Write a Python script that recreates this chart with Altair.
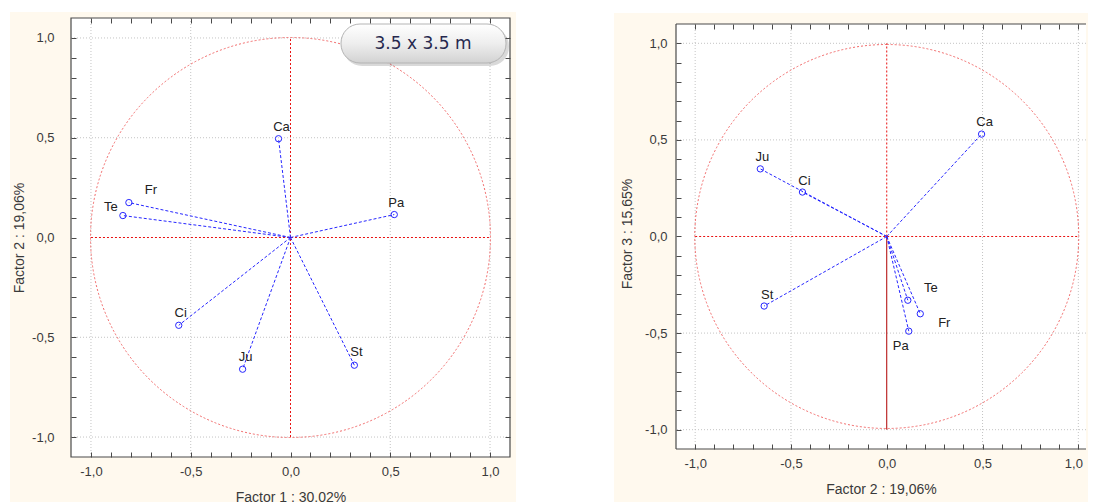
import altair as alt
import pandas as pd

# ---------------- data ----------------
variables = ["Ca", "Fr", "Te", "Pa", "Ci", "Ju", "St"]
factor1 = [-0.06, -0.81, -0.84, 0.52, -0.56, -0.24, 0.32]
factor2 = [0.495, 0.175, 0.11, 0.115, -0.44, -0.66, -0.64]
factor3 = [0.53, -0.40, -0.33, -0.49, 0.23, 0.35, -0.36]

tick_values = [-1.0, -0.9, -0.8, -0.7, -0.6, -0.5, -0.4, -0.3, -0.2, -0.1, 0.0,
               0.1, 0.2, 0.3, 0.4, 0.5, 0.6, 0.7, 0.8, 0.9, 1.0]
grid_values = [-1.0, -0.5, 0.0, 0.5, 1.0]
badge_text = "3.5 x 3.5 m"
title_f1 = "Factor 1 : 30,02%"
title_f2 = "Factor 2 : 19,06%"
title_f3 = "Factor 3 : 15,65%"

df = pd.DataFrame({"name": variables, "f1": factor1, "f2": factor2, "f3": factor3})
grid_df = pd.DataFrame({"g": grid_values})
ref_df = pd.DataFrame({"lo": [grid_values[0]], "hi": [grid_values[-1]], "mid": [grid_values[2]]})
one = pd.DataFrame({"k": [0]})

# ---------------- styles ----------------
FONT = "Liberation Sans"
CREAM = "#fff9ee"
GRID = "#c4c4c4"
RED = "#e81010"
CIRCLE = "#f26a6a"
BLUE = "#2626ff"
FRAME = "#4a4a4a"
TXT = "#3a3a3a"
HIDE_EXPR = "abs(datum.value * 2 - round(datum.value * 2)) < 0.001 ? datum.label : ''"

left_offsets = {"Ca": (3, -12), "Fr": (22, -13), "Te": (-12, -9), "Pa": (2, -12),
                "Ci": (2, -12), "Ju": (3, -12), "St": (2, -13)}
right_offsets = {"Ca": (3, -12), "Fr": (24, 9), "Te": (23, -12), "Pa": (-8, 15),
                 "Ci": (2, -11), "Ju": (2, -12), "St": (3, -11)}


def axis(orient, title=None, labels=True, label_pad=8, title_pad=8, offset=-5, last_shift=0):
    kw = dict(orient=orient, values=tick_values, format=".1f", labelExpr=HIDE_EXPR,
              offset=offset, domain=False, ticks=True, tickSize=5, tickColor=FRAME,
              tickWidth=1, grid=False, labels=labels, labelFont=FONT, labelFontSize=13,
              labelColor=TXT, labelPadding=label_pad, labelFlush=False,
              labelOverlap=False, zindex=1, title=title)
    if last_shift:
        kw.update(labelOffset={"condition": {"test": "datum.value >= 1", "value": last_shift},
                               "value": 0})
    if title is not None:
        kw.update(titleFont=FONT, titleFontSize=14, titleFontWeight="normal",
                  titleColor=TXT, titlePadding=title_pad)
    return alt.Axis(**kw)


def panel(xf, yf, xtitle, ytitle, W, H, top, xdom, ydom, radius, offsets, cream,
          ylab_pad, ytitle_pad, right_frame, badge, split_vertical, last_shift=0):
    # `top` = empty pixels above the frame inside the view
    xs = alt.Scale(domain=xdom, nice=False, zero=False)
    ys = alt.Scale(domain=ydom, nice=False, zero=False)

    def X(f):
        return alt.X(f"{f}:Q", scale=xs, axis=None)

    def Y(f):
        return alt.Y(f"{f}:Q", scale=ys, axis=None)

    L = []
    cx1, cx2, cy1, cy2 = cream
    L.append(alt.Chart(one).mark_rect(color=CREAM).encode(
        x=alt.value(cx1), x2=alt.value(cx2), y=alt.value(cy1), y2=alt.value(cy2)))
    L.append(alt.Chart(one).mark_rect(color="white").encode(
        x=alt.value(0), x2=alt.value(W), y=alt.value(top), y2=alt.value(H)))
    # grid (the 0 lines are drawn in red below)
    L.append(alt.Chart(grid_df).transform_filter("datum.g != 0").mark_rule(
        color=GRID, strokeDash=[1, 2], strokeWidth=1).encode(
        x=X("g"), y=alt.value(top), y2=alt.value(H)))
    L.append(alt.Chart(grid_df).transform_filter("datum.g != 0").mark_rule(
        color=GRID, strokeDash=[1, 2], strokeWidth=1).encode(y=Y("g")))
    # unit circle
    L.append(alt.Chart(ref_df).mark_arc(radius=radius, theta=0, theta2=6.2832, filled=False,
                                        stroke=CIRCLE, strokeDash=[2, 2], strokeWidth=1).encode(
        x=X("mid"), y=Y("mid")))
    # red axes through the origin
    L.append(alt.Chart(ref_df).mark_rule(color=RED, strokeDash=[2, 2], strokeWidth=1).encode(
        x=X("lo"), x2="hi:Q", y=Y("mid")))
    if split_vertical:
        L.append(alt.Chart(ref_df).mark_rule(color=RED, strokeDash=[2, 2], strokeWidth=1).encode(
            x=X("mid"), y=Y("mid"), y2="hi:Q"))
        L.append(alt.Chart(ref_df).mark_rule(color="#b00000", strokeWidth=1).encode(
            x=X("mid"), y=Y("lo"), y2="mid:Q"))
    else:
        L.append(alt.Chart(ref_df).mark_rule(color=RED, strokeDash=[2, 2], strokeWidth=1).encode(
            x=X("mid"), y=Y("lo"), y2="hi:Q"))
    # vectors from the origin
    L.append(alt.Chart(df).transform_calculate(origin="0").mark_rule(
        color=BLUE, strokeDash=[3, 2], strokeWidth=1).encode(
        x=X("origin"), y=Y("origin"), x2=f"{xf}:Q", y2=f"{yf}:Q"))
    L.append(alt.Chart(df).mark_point(shape="circle", filled=False, size=40, color=BLUE,
                                      strokeWidth=1, opacity=1).encode(
        x=X(xf), y=Y(yf)))
    for name, (dx, dy) in offsets.items():
        L.append(alt.Chart(df).transform_filter(alt.datum.name == name).mark_text(
            dx=dx, dy=dy, font=FONT, fontSize=13, color="#222222", baseline="middle",
            align="center").encode(x=X(xf), y=Y(yf), text="name:N"))
    # frame
    if right_frame:
        L.append(alt.Chart(one).mark_rect(fillOpacity=0, stroke=FRAME, strokeWidth=1.2).encode(
            x=alt.value(0), x2=alt.value(W), y=alt.value(top), y2=alt.value(H)))
    else:
        L.append(alt.Chart(one).mark_rule(color=FRAME, strokeWidth=1.2).encode(
            x=alt.value(0), x2=alt.value(W), y=alt.value(top)))
        L.append(alt.Chart(one).mark_rule(color=FRAME, strokeWidth=1.2).encode(
            x=alt.value(0), x2=alt.value(W), y=alt.value(H)))
        L.append(alt.Chart(one).mark_rule(color=FRAME, strokeWidth=1.2).encode(
            x=alt.value(0), y=alt.value(top), y2=alt.value(H)))
    # axes (bottom/left with labels, top/right ticks only)
    L.append(alt.Chart(df).mark_point(opacity=0).encode(
        x=alt.X(f"{xf}:Q", scale=xs, axis=axis("bottom", xtitle, label_pad=8, title_pad=12,
                                                 last_shift=last_shift)),
        y=alt.Y(f"{yf}:Q", scale=ys, axis=axis("left", ytitle, label_pad=ylab_pad, title_pad=ytitle_pad))))
    if right_frame:
        L.append(alt.Chart(df).mark_point(opacity=0).encode(
            x=alt.X(f"{xf}:Q", scale=xs, axis=axis("top", None, labels=False, offset=-5 - top)),
            y=alt.Y(f"{yf}:Q", scale=ys, axis=axis("right", None, labels=False))))
    else:
        L.append(alt.Chart(df).mark_point(opacity=0).encode(
            x=alt.X(f"{xf}:Q", scale=xs, axis=axis("top", None, labels=False, offset=-5 - top)),
            y=Y(yf)))
    if badge:
        L.append(alt.Chart(one).mark_rect(cornerRadius=19, color="#000000", opacity=0.15).encode(
            x=alt.value(272), x2=alt.value(438), y=alt.value(9), y2=alt.value(48)))
        grad = alt.LinearGradient(
            gradient="linear", x1=0, x2=0, y1=0, y2=1,
            stops=[alt.GradientStop(color="#ffffff", offset=0),
                   alt.GradientStop(color="#eeeeee", offset=0.5),
                   alt.GradientStop(color="#d2d2d2", offset=1)])
        L.append(alt.Chart(one).mark_rect(cornerRadius=19, fill=grad, stroke="#b4b4b4",
                                          strokeWidth=1).encode(
            x=alt.value(270), x2=alt.value(435), y=alt.value(6), y2=alt.value(45)))
        L.append(alt.Chart(one).mark_text(font="DejaVu Sans", fontSize=17, color="#26284e",
                                          baseline="middle", align="center").encode(
            x=alt.value(352), y=alt.value(26), text=alt.value(badge_text)))
    return alt.layer(*L).resolve_axis(x="independent", y="independent").properties(
        width=W, height=H)


left = panel("f1", "f2", title_f1, title_f2, 439, 439, 0, [-1.1, 1.1], [-1.1, 1.1], 200,
             left_offsets, (-61, 445, -6, 486), 17, 5, True, True, False)
# right panel: 6 px of empty view on top so its frame sits lower than the left one
right = panel("f2", "f3", title_f2, title_f3, 410, 431, 6, [-1.1, 1.04], [-1.1, 1.131], 192,
              right_offsets, (-62, 412, -5, 486), 9, 10, False, False, True, last_shift=-5)

chart = alt.hconcat(left, right, spacing=96, padding={"left": 1, "top": 3, "right": 0, "bottom": 0},
                    background="white").configure_view(strokeWidth=0).configure(
    locale={"number": {"decimal": ",", "thousands": ".", "grouping": [3],
                       "currency": ["", ""], "minus": "-"}})

chart.save("out.html", embed_options={"renderer": "svg", "actions": False})
